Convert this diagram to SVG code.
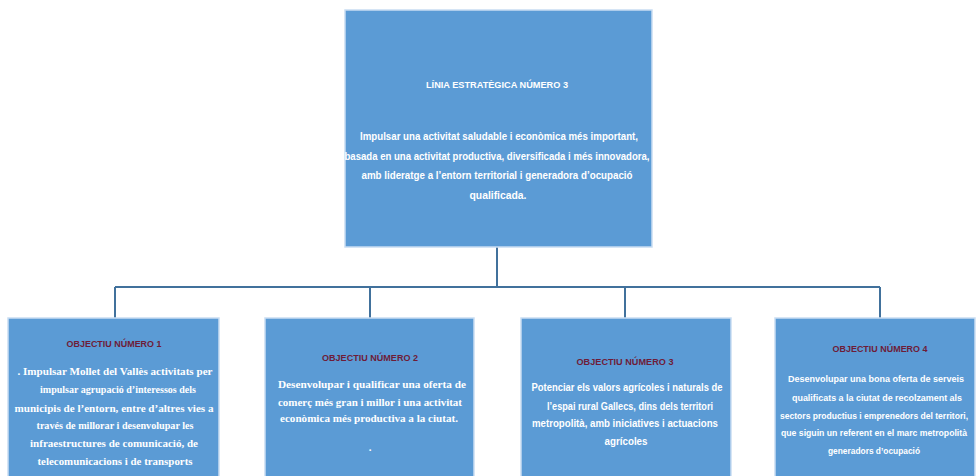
<svg xmlns="http://www.w3.org/2000/svg" width="976" height="476" viewBox="0 0 976 476">
<style>
.box{fill:#5B9BD5;stroke:#C9DDF2;stroke-width:1.5}
.ln{stroke:#41719C;stroke-width:2;fill:none}
.s{font-family:"Liberation Sans",Arial,sans-serif;font-weight:bold;fill:#fff;text-anchor:middle}
.r{font-family:"Liberation Serif","Times New Roman",serif;font-weight:bold;fill:#fff;text-anchor:middle}
.t{font-family:"Liberation Sans",Arial,sans-serif;font-weight:bold;fill:#6E1C38;text-anchor:middle;font-size:9px}
</style>
<rect width="976" height="476" fill="#fff"/>
<g id="connectors">
<path class="ln" d="M497 247V287M115 287H880M115 287V318M370 287V318M625 287V318M880 287V318"/>
</g>
<g id="linia">
<rect class="box" x="345" y="10" width="307" height="237"/>
<text class="s" x="497" y="88" font-size="9" textLength="142" lengthAdjust="spacingAndGlyphs">LÍNIA ESTRATÈGICA NÚMERO 3</text>
<text class="s" x="499" y="140" font-size="11" textLength="278" lengthAdjust="spacingAndGlyphs">Impulsar una activitat saludable i econòmica més important,</text>
<text class="s" x="497" y="160" font-size="11" textLength="305" lengthAdjust="spacingAndGlyphs">basada en una activitat productiva, diversificada i més innovadora,</text>
<text class="s" x="497" y="179" font-size="11" textLength="271" lengthAdjust="spacingAndGlyphs">amb lideratge a l’entorn territorial i generadora d’ocupació</text>
<text class="s" x="498" y="199" font-size="11" textLength="57" lengthAdjust="spacingAndGlyphs">qualificada.</text>
</g>
<g id="obj1">
<rect class="box" x="8" y="318" width="211" height="170"/>
<text class="t" x="114" y="347" textLength="95" lengthAdjust="spacingAndGlyphs">OBJECTIU NÚMERO 1</text>
<text class="r" x="115" y="375" font-size="11" textLength="195" lengthAdjust="spacingAndGlyphs">. Impulsar Mollet del Vallès activitats per</text>
<text class="r" x="118" y="393" font-size="11" textLength="156" lengthAdjust="spacingAndGlyphs">impulsar agrupació d’interessos dels</text>
<text class="r" x="114" y="412" font-size="11" textLength="199" lengthAdjust="spacingAndGlyphs">municipis de l’entorn, entre d’altres vies a</text>
<text class="r" x="115" y="429" font-size="11" textLength="157" lengthAdjust="spacingAndGlyphs">través de millorar i desenvolupar les</text>
<text class="r" x="114" y="447" font-size="11" textLength="168" lengthAdjust="spacingAndGlyphs">infraestructures de comunicació, de</text>
<text class="r" x="115" y="465" font-size="11" textLength="155" lengthAdjust="spacingAndGlyphs">telecomunicacions i de transports</text>
</g>
<g id="obj2">
<rect class="box" x="265" y="318" width="209" height="170"/>
<text class="t" x="370" y="361" textLength="96" lengthAdjust="spacingAndGlyphs">OBJECTIU NÚMERO 2</text>
<text class="r" x="372" y="388" font-size="11" textLength="188" lengthAdjust="spacingAndGlyphs">Desenvolupar i qualificar una oferta de</text>
<text class="r" x="370" y="406" font-size="11" textLength="184" lengthAdjust="spacingAndGlyphs">comerç més gran i millor i una activitat</text>
<text class="r" x="369" y="422" font-size="11" textLength="178" lengthAdjust="spacingAndGlyphs">econòmica més productiva a la ciutat.</text>
<text class="r" x="370" y="451" font-size="11">.</text>
</g>
<g id="obj3">
<rect class="box" x="521" y="318" width="210" height="170"/>
<text class="t" x="625" y="365" textLength="97" lengthAdjust="spacingAndGlyphs">OBJECTIU NÚMERO 3</text>
<text class="s" x="627" y="391" font-size="10.5" textLength="191" lengthAdjust="spacingAndGlyphs">Potenciar els valors agrícoles i naturals de</text>
<text class="s" x="630" y="410" font-size="10.5" textLength="166" lengthAdjust="spacingAndGlyphs">l’espai rural Gallecs, dins dels territori</text>
<text class="s" x="625" y="427" font-size="10.5" textLength="186" lengthAdjust="spacingAndGlyphs">metropolità, amb iniciatives i actuacions</text>
<text class="s" x="626" y="445" font-size="10.5" textLength="43" lengthAdjust="spacingAndGlyphs">agrícoles</text>
</g>
<g id="obj4">
<rect class="box" x="775" y="318" width="200" height="170"/>
<text class="t" x="880" y="352" textLength="95" lengthAdjust="spacingAndGlyphs">OBJECTIU NÚMERO 4</text>
<text class="s" x="876" y="382" font-size="9" textLength="176" lengthAdjust="spacingAndGlyphs">Desenvolupar una bona oferta de serveis</text>
<text class="s" x="877" y="401" font-size="9" textLength="170" lengthAdjust="spacingAndGlyphs">qualificats a la ciutat de recolzament als</text>
<text class="s" x="874" y="419" font-size="8.5" textLength="188" lengthAdjust="spacingAndGlyphs">sectors productius i emprenedors del territori,</text>
<text class="s" x="874" y="436" font-size="8.5" textLength="186" lengthAdjust="spacingAndGlyphs">que siguin un referent en el marc metropolità</text>
<text class="s" x="874" y="454" font-size="9.5" textLength="92" lengthAdjust="spacingAndGlyphs">generadors d’ocupació</text>
</g>
</svg>
